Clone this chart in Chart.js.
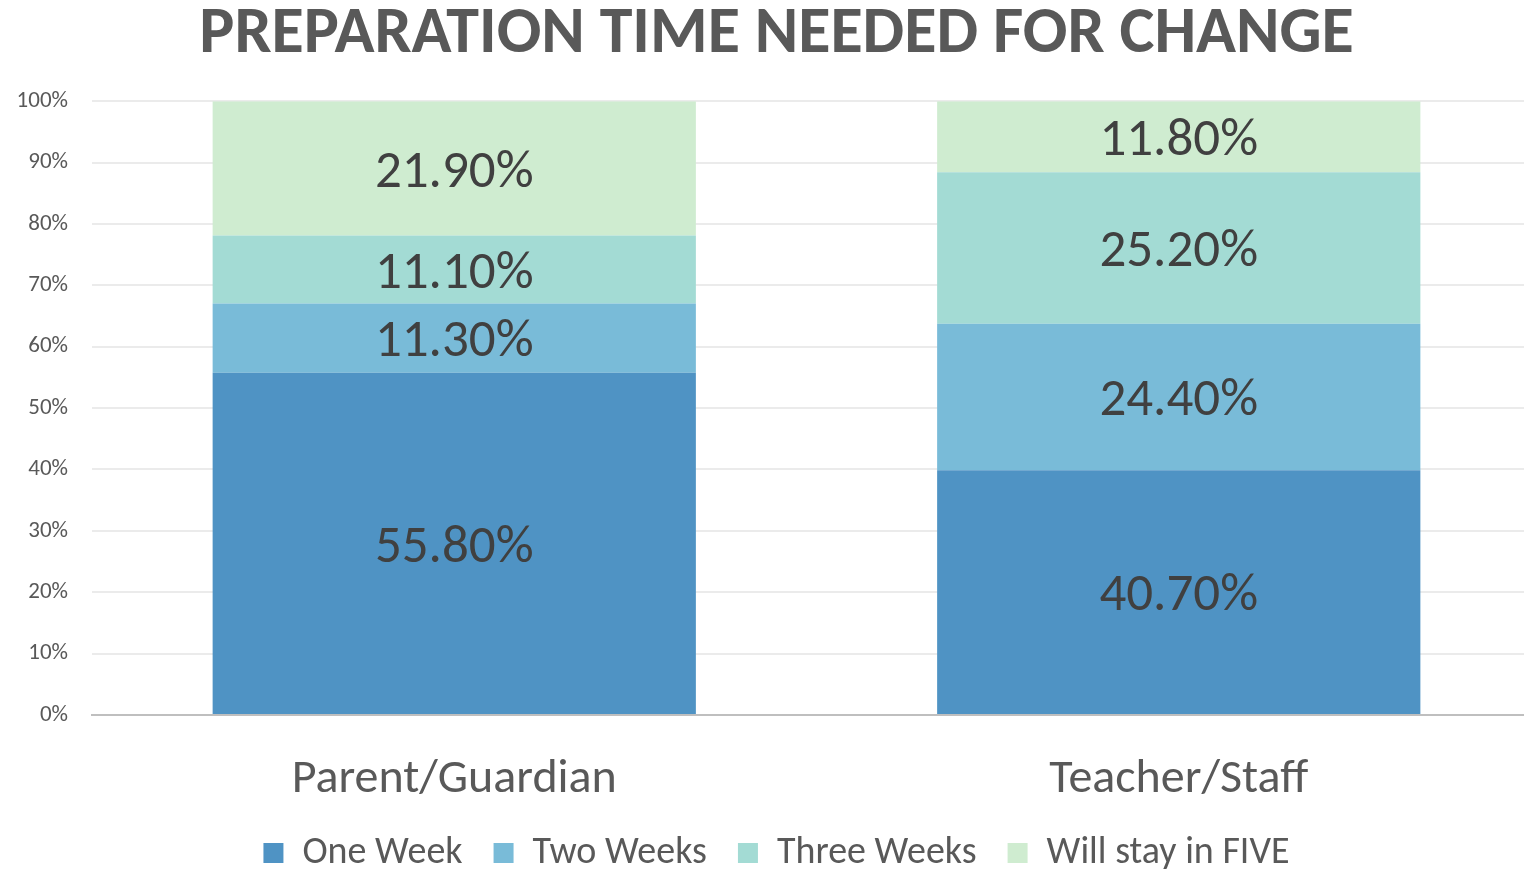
<!DOCTYPE html>
<html>
<head>
<meta charset="utf-8">
<script src="https://cdn.jsdelivr.net/npm/chart.js@4"></script>
<style>
  html, body { margin: 0; padding: 0; background: #fff; overflow: hidden; }
  #chart { display: block; }
</style>
</head>
<body>
<canvas id="chart" width="1570" height="869"></canvas>
<script>
// Chart data
const categories = ['Parent/Guardian', 'Teacher/Staff'];
const seriesNames = ['One Week', 'Two Weeks', 'Three Weeks', 'Will stay in FIVE'];
const oneWeek = [55.8, 40.7];
const twoWeeks = [11.3, 24.4];
const threeWeeks = [11.1, 25.2];
const willStay = [21.9, 11.8];
const yTicks = [0, 10, 20, 30, 40, 50, 60, 70, 80, 90, 100];

const colors = ['#4f93c4', '#79bbd8', '#a3dbd4', '#cfecd0'];
const fontFamily = 'Carlito, "Open Sans", "Noto Sans", sans-serif';

// 100% stacked: normalise each category to its own total
const raw = [oneWeek, twoWeeks, threeWeeks, willStay];
const totals = categories.map((c, i) => raw.reduce((s, arr) => s + arr[i], 0));

const datasets = raw.map((arr, k) => ({
    label: seriesNames[k],
    data: arr.map((v, i) => v / totals[i] * 100),
    rawValues: arr,
    backgroundColor: colors[k],
    borderWidth: 0,
    barPercentage: 0.667,
    categoryPercentage: 1.0
}));

// Draw value labels in the middle of each segment
const valueLabels = {
    id: 'valueLabels',
    afterDatasetsDraw(chart) {
        const ctx = chart.ctx;
        ctx.save();
        ctx.font = '53px ' + fontFamily;
        ctx.fillStyle = '#404040';
        ctx.textAlign = 'center';
        ctx.textBaseline = 'middle';
        chart.data.datasets.forEach((ds, di) => {
            chart.getDatasetMeta(di).data.forEach((bar, i) => {
                const { x, y, base } = bar.getProps(['x', 'y', 'base'], true);
                ctx.fillText(ds.rawValues[i].toFixed(2) + '%', x, (y + base) / 2 + 5);
            });
        });
        ctx.restore();
    }
};

new Chart(document.getElementById('chart'), {
    type: 'bar',
    data: { labels: categories, datasets: datasets },
    plugins: [valueLabels],
    options: {
        responsive: false,
        animation: false,
        layout: { padding: { left: 12, right: 29, top: 0, bottom: -13 } },
        plugins: {
            title: {
                display: true,
                text: 'PREPARATION TIME NEEDED FOR CHANGE',
                color: '#595959',
                font: { family: fontFamily, size: 66, weight: 'bold' },
                padding: { top: -4, bottom: 26 }
            },
            legend: {
                position: 'bottom',
                labels: {
                    color: '#595959',
                    font: { family: fontFamily, size: 38 },
                    boxWidth: 20,
                    boxHeight: 20,
                    padding: 31
                }
            },
            tooltip: { enabled: false }
        },
        scales: {
            x: {
                stacked: true,
                grid: { display: false, drawTicks: false },
                border: { color: '#bfbfbf', width: 2 },
                afterFit: axis => { axis.height = 88; },
                ticks: {
                    color: '#595959',
                    font: { family: fontFamily, size: 48 },
                    padding: 36
                }
            },
            y: {
                stacked: true,
                min: 0,
                max: 100,
                afterBuildTicks: axis => { axis.ticks = yTicks.map(v => ({ value: v })); },
                afterFit: axis => { axis.width = 80; },
                grid: { color: '#ebebeb', lineWidth: 2, drawTicks: false },
                border: { display: false },
                ticks: {
                    color: '#595959',
                    font: { family: fontFamily, size: 23 },
                    padding: 24,
                    callback: v => v + '%'
                }
            }
        }
    }
});
</script>
</body>
</html>
